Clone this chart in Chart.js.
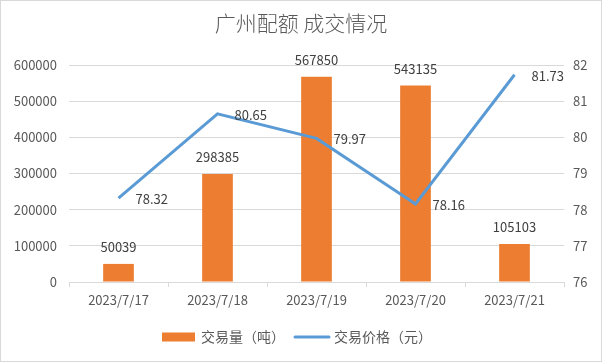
<!DOCTYPE html>
<html>
<head>
<meta charset="utf-8">
<script src="https://cdn.jsdelivr.net/npm/chart.js@4/dist/chart.umd.min.js"></script>
<style>
  html, body { margin: 0; padding: 0; background: #fff; }
  #wrap { width: 602px; height: 362px; }
</style>
</head>
<body>
<div id="wrap"><canvas id="chart" width="602" height="362"></canvas></div>
<script>
// data
const dates = ["2023/7/17", "2023/7/18", "2023/7/19", "2023/7/20", "2023/7/21"];
const volume = [50039, 298385, 567850, 543135, 105103];
const price = [78.32, 80.65, 79.97, 78.16, 81.73];
const titleText = "广州配额 成交情况";
const volumeLabel = "交易量（吨）";
const priceLabel = "交易价格（元）";

const FONT = "'Noto Sans CJK SC', 'Noto Sans', sans-serif";
const ORANGE = "#ED7D31";
const BLUE = "#5B9BD5";
const GRID = "#d9d9d9";
const TEXT = "#595959";

// value labels, title, legend and outer frame
const decorations = {
  id: "decorations",
  afterDatasetsDraw(chart) {
    const ctx = chart.ctx;
    ctx.save();
    ctx.fillStyle = "#404040";
    ctx.font = "13px " + FONT;

    // bar labels
    ctx.textAlign = "center";
    ctx.textBaseline = "middle";
    chart.getDatasetMeta(0).data.forEach((bar, i) => {
      ctx.fillText(String(volume[i]), bar.x, bar.y - 17);
    });

    // line labels
    ctx.textAlign = "left";
    chart.getDatasetMeta(1).data.forEach((pt, i) => {
      ctx.fillText(price[i].toFixed(2), pt.x + 17, pt.y + 1);
    });
    ctx.restore();
  },
  afterDraw(chart) {
    const ctx = chart.ctx;
    ctx.save();
    // frame
    ctx.strokeStyle = GRID;
    ctx.lineWidth = 1;
    ctx.strokeRect(0.5, 0.5, chart.width - 1, chart.height - 1);

    // title
    ctx.fillStyle = TEXT;
    ctx.font = "300 21px " + FONT;
    ctx.textAlign = "center";
    ctx.textBaseline = "middle";
    ctx.fillText(titleText, chart.width / 2, 23);

    // legend
    const ly = 337;
    ctx.font = "14px " + FONT;
    ctx.textAlign = "left";
    ctx.fillStyle = ORANGE;
    ctx.fillRect(162, ly - 4.5, 33, 9);
    ctx.fillStyle = TEXT;
    ctx.fillText(volumeLabel, 201, ly);

    ctx.strokeStyle = BLUE;
    ctx.lineWidth = 3;
    ctx.lineCap = "round";
    ctx.beginPath();
    ctx.moveTo(295, ly);
    ctx.lineTo(329, ly);
    ctx.stroke();
    ctx.fillText(priceLabel, 334, ly);
    ctx.restore();
  }
};

const ctx = document.getElementById("chart").getContext("2d");

new Chart(ctx, {
  type: "bar",
  data: {
    labels: dates,
    datasets: [
      {
        type: "bar",
        label: volumeLabel,
        data: volume,
        backgroundColor: ORANGE,
        yAxisID: "y",
        barPercentage: 0.62,
        categoryPercentage: 0.5,
        order: 1,
      },
      {
        type: "line",
        label: priceLabel,
        data: price,
        borderColor: BLUE,
        borderWidth: 3,
        pointRadius: 0,
        fill: false,
        tension: 0,
        yAxisID: "y1",
        order: 0,
      },
    ],
  },
  options: {
    responsive: false,
    animation: false,
    layout: { padding: { top: 65, left: 0, right: 0, bottom: 0 } },
    plugins: {
      legend: { display: false },
      title: { display: false },
      tooltip: { enabled: false },
    },
    scales: {
      x: {
        offset: true,
        grid: {
          offset: true,
          drawOnChartArea: false,
          drawTicks: true,
          tickLength: 5,
          color: GRID,
        },
        border: { color: GRID },
        ticks: { color: TEXT, font: { family: FONT, size: 13 }, padding: 5, maxRotation: 0 },
        afterFit(scale) { scale.height = 80; },
      },
      y: {
        position: "left",
        min: 0,
        max: 600000,
        ticks: {
          stepSize: 100000,
          color: TEXT,
          font: { family: FONT, size: 13 },
          padding: 12,
          callback: (v) => String(v),
        },
        grid: { color: GRID, drawTicks: false },
        border: { display: false },
        afterFit(scale) { scale.width = 69; },
      },
      y1: {
        position: "right",
        min: 76,
        max: 82,
        ticks: { stepSize: 1, color: TEXT, font: { family: FONT, size: 13 }, padding: 9 },
        grid: { drawOnChartArea: false, drawTicks: false },
        border: { display: false },
        afterFit(scale) { scale.width = 38; },
      },
    },
  },
  plugins: [decorations],
});
</script>
</body>
</html>
